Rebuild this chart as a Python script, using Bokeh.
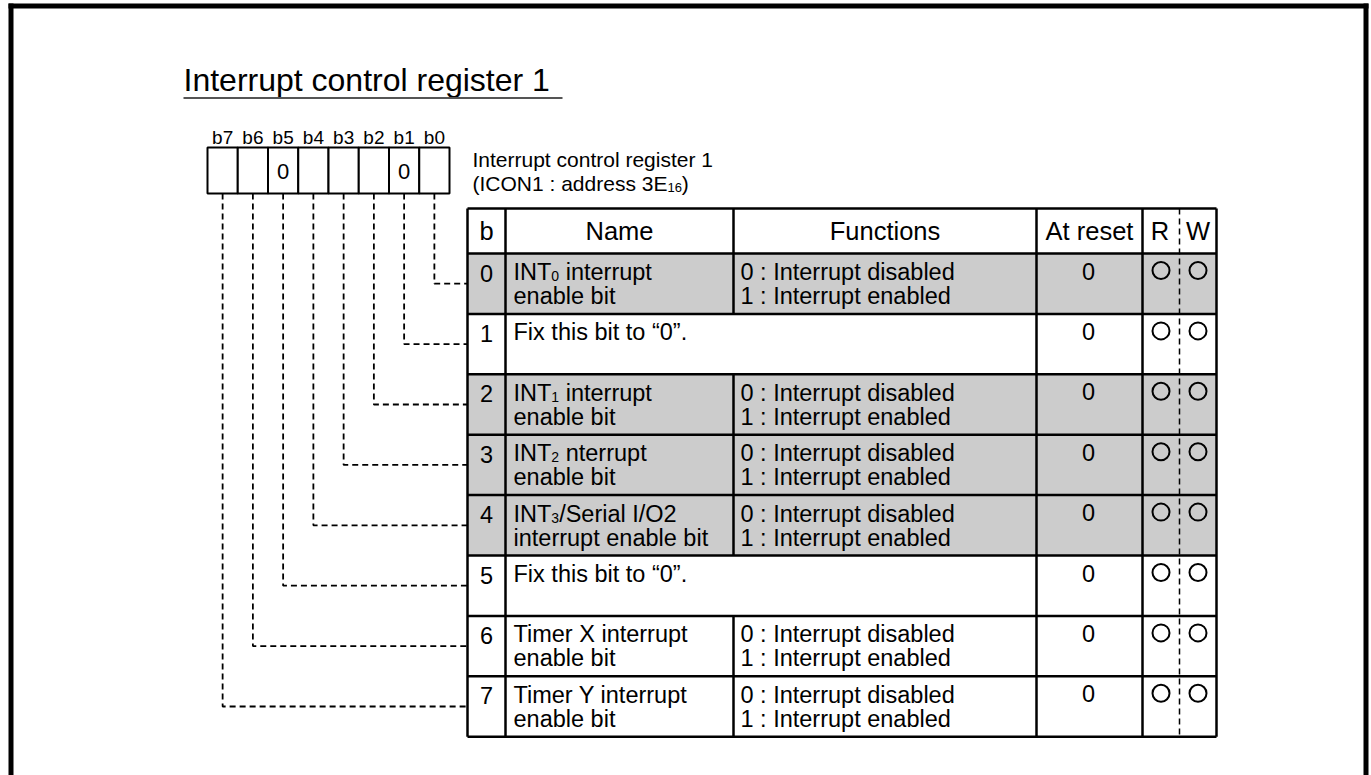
from bokeh.plotting import figure
from bokeh.models import Range1d
from bokeh.core.properties import value
from bokeh.embed import file_html
from bokeh.resources import INLINE

# ---------------- data ----------------
title_text = "Interrupt control register 1"
register_label = "Interrupt control register 1"
address_main = "(ICON1 : address 3E"
address_sub = "16"
address_tail = ")"

bit_labels = ["b7", "b6", "b5", "b4", "b3", "b2", "b1", "b0"]
box_values = ["", "", "0", "", "", "", "0", ""]

header_labels = ["b", "Name", "Functions", "At reset", "R", "W"]

row_bits = ["0", "1", "2", "3", "4", "5", "6", "7"]
name_head = ["INT", "Fix this bit to \u201c0\u201d.", "INT", "INT", "INT",
             "Fix this bit to \u201c0\u201d.", "Timer X interrupt", "Timer Y interrupt"]
name_sub = ["0", "", "1", "2", "3", "", "", ""]
name_tail = [" interrupt", "", " interrupt", " nterrupt", "/Serial I/O2", "", "", ""]
name_line2 = ["enable bit", "", "enable bit", "enable bit", "interrupt enable bit",
              "", "enable bit", "enable bit"]
func_line1 = ["0 : Interrupt disabled", "", "0 : Interrupt disabled", "0 : Interrupt disabled",
              "0 : Interrupt disabled", "", "0 : Interrupt disabled", "0 : Interrupt disabled"]
func_line2 = ["1 : Interrupt enabled", "", "1 : Interrupt enabled", "1 : Interrupt enabled",
              "1 : Interrupt enabled", "", "1 : Interrupt enabled", "1 : Interrupt enabled"]
reset_values = ["0", "0", "0", "0", "0", "0", "0", "0"]
readable = [True, True, True, True, True, True, True, True]
writable = [True, True, True, True, True, True, True, True]
shaded = [True, False, True, True, True, False, False, False]

# ---------------- layout / style ----------------
FONT = value("Liberation Sans")
W, H = 1371, 775

AFM = {" ": 278, "(": 333, ")": 333, ":": 278, "/": 278, "A": 667, "C": 722, "E": 667,
       "I": 278, "N": 722, "O": 778, "T": 611, "a": 556, "d": 556, "e": 556, "r": 333,
       "s": 500, "i": 222, "l": 222, "t": 278, "n": 556, "u": 556, "p": 556, "b": 556}


def tw(s, fs):
    return sum(AFM.get(c, 556) for c in s) / 1000.0 * fs


p = figure(width=W, height=H, output_backend="svg", toolbar_location=None,
           x_range=Range1d(0, W), y_range=Range1d(H, 0),
           x_axis_location=None, y_axis_location=None, min_border=0,
           background_fill_color="white", border_fill_color="white")
p.grid.visible = False
p.outline_line_color = None


def txt(x, y, s, fs, align="left", color="black"):
    lead = len(s) - len(s.lstrip(" "))
    if lead and align == "left":
        x = x + tw(" " * lead, fs)
        s = s.lstrip(" ")
    p.text(x=[x], y=[y], text=[s], text_font=FONT, text_font_size=f"{fs}px",
           text_align=align, text_baseline="middle", text_color=color)


# page frame (left, top, right)
p.segment(x0=[10.5, 8, 1365.5], y0=[3, 5.5, 3], x1=[10.5, 1368, 1365.5], y1=[H + 5, 5.5, H + 5],
          line_color="black", line_width=5)

# title
txt(183, 79, title_text, 32)
p.segment(x0=[183], y0=[97.5], x1=[562], y1=[97.5], line_color="#555555", line_width=2)

# register boxes
BOX_L, BOX_W, BOX_T, BOX_B = 207, 30.25, 147, 193
n_bits = len(bit_labels)
lefts = [BOX_L + i * BOX_W for i in range(n_bits)]
p.quad(left=lefts, right=[l + BOX_W for l in lefts], top=[BOX_T] * n_bits, bottom=[BOX_B] * n_bits,
       fill_color="white", line_color="black", line_width=2)
centers = [l + BOX_W / 2 for l in lefts]
p.text(x=centers, y=[137] * n_bits, text=bit_labels, text_font=FONT, text_font_size="19px",
       text_align="center", text_baseline="middle")
p.text(x=centers, y=[170.5] * n_bits, text=box_values, text_font=FONT, text_font_size="22px",
       text_align="center", text_baseline="middle")

# register name / address
SUB_FS = 21
txt(472, 159, register_label, SUB_FS)
txt(472, 183, address_main, SUB_FS)
xs = 472 + tw(address_main, SUB_FS)
txt(xs, 187, address_sub, 13)
txt(xs + tw(address_sub, 13), 183, address_tail, SUB_FS)

# table geometry
COLS = [467, 505, 733, 1036, 1142, 1216]
RW_SPLIT = 1179
HEAD_T, HEAD_B = 208, 253
ROW_H = 60.4
n_rows = len(row_bits)
row_tops = [HEAD_B + i * ROW_H for i in range(n_rows)]
TAB_B = HEAD_B + n_rows * ROW_H

# shading
sh = [i for i in range(n_rows) if shaded[i]]
p.quad(left=[COLS[0]] * len(sh), right=[COLS[-1]] * len(sh),
       top=[row_tops[i] for i in sh], bottom=[row_tops[i] + ROW_H for i in sh],
       fill_color="#cccccc", line_color=None)

# R/W dashed divider
p.segment(x0=[RW_SPLIT], y0=[HEAD_T], x1=[RW_SPLIT], y1=[TAB_B], line_color="black",
          line_width=1.5, line_dash="6 4")

# table lines
sx0, sy0, sx1, sy1 = [], [], [], []
for y in [HEAD_T, HEAD_B] + [t + ROW_H for t in row_tops]:
    sx0.append(COLS[0]); sx1.append(COLS[-1]); sy0.append(y); sy1.append(y)
for c in [COLS[0], COLS[1], COLS[3], COLS[4], COLS[5]]:
    sx0.append(c); sx1.append(c); sy0.append(HEAD_T); sy1.append(TAB_B)
sx0.append(COLS[2]); sx1.append(COLS[2]); sy0.append(HEAD_T); sy1.append(HEAD_B)
for i in range(n_rows):
    if func_line1[i]:
        sx0.append(COLS[2]); sx1.append(COLS[2]); sy0.append(row_tops[i]); sy1.append(row_tops[i] + ROW_H)
p.segment(x0=sx0, y0=sy0, x1=sx1, y1=sy1, line_color="black", line_width=2.5)

# header texts
HFS = 25.5
hx = [(COLS[0] + COLS[1]) / 2, (COLS[1] + COLS[2]) / 2, (COLS[2] + COLS[3]) / 2,
      (COLS[3] + COLS[4]) / 2, (COLS[4] + RW_SPLIT) / 2 - 1, (RW_SPLIT + COLS[5]) / 2]
p.text(x=hx, y=[230.5] * 6, text=header_labels, text_font=FONT, text_font_size=f"{HFS}px",
       text_align="center", text_baseline="middle")

# rows
FS = 23.5
SFS = 14
for i in range(n_rows):
    t = row_tops[i]
    l1, l2 = t + 18.5, t + 42.5
    txt((COLS[0] + COLS[1]) / 2, t + 19.5, row_bits[i], FS, align="center")
    nx = COLS[1] + 8
    txt(nx, l1, name_head[i], FS)
    if name_sub[i]:
        sx = nx + tw(name_head[i], FS)
        txt(sx, l1 + 4, name_sub[i], SFS)
        txt(sx + tw(name_sub[i], SFS), l1, name_tail[i], FS)
    if name_line2[i]:
        txt(nx, l2, name_line2[i], FS)
    if func_line1[i]:
        txt(COLS[2] + 7, l1, func_line1[i], FS)
        txt(COLS[2] + 7, l2, func_line2[i], FS)
    txt((COLS[3] + COLS[4]) / 2 - 1, t + 17.5, reset_values[i], FS, align="center")

# R / W circles
rx = [(COLS[4] + RW_SPLIT) / 2 for i in range(n_rows) if readable[i]]
ry = [row_tops[i] + 17 for i in range(n_rows) if readable[i]]
wx = [(RW_SPLIT + COLS[5]) / 2 for i in range(n_rows) if writable[i]]
wy = [row_tops[i] + 17 for i in range(n_rows) if writable[i]]
p.scatter(x=rx + wx, y=ry + wy, marker="circle", size=17, fill_color=None,
          line_color="black", line_width=2)

# dashed connectors from each bit box to its row
cx, cy = [], []
for k in range(n_bits):
    bit_no = n_bits - 1 - k  # b7 is leftmost
    x = centers[k]
    y = row_tops[bit_no] + ROW_H / 2
    cx.append([x, x, COLS[0]])
    cy.append([BOX_B, y, y])
p.multi_line(xs=cx, ys=cy, line_color="black", line_width=1.8, line_dash="6 4")

open("out.html", "w").write(file_html(p, INLINE))
